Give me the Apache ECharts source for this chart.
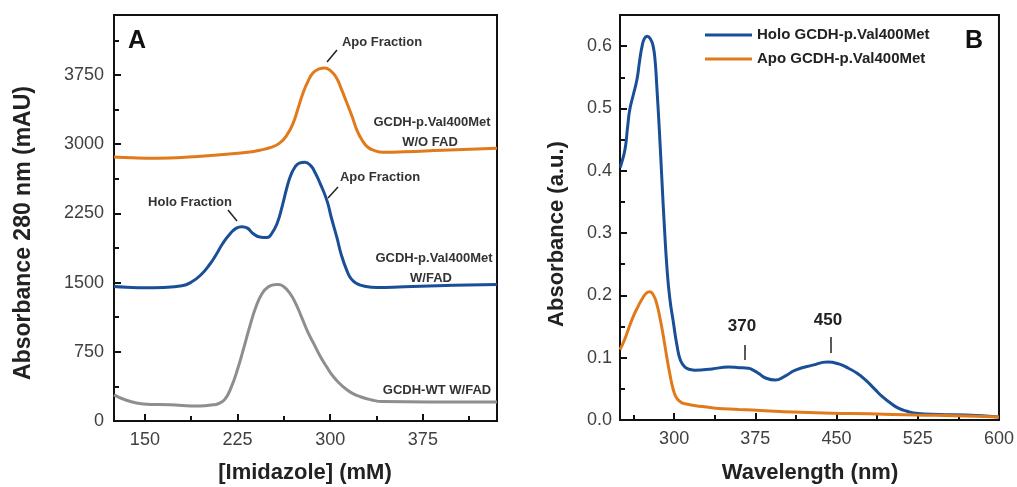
<!DOCTYPE html>
<html>
<head>
<meta charset="utf-8">
<script src="https://cdn.jsdelivr.net/npm/echarts@6/dist/echarts.min.js"></script>
<style>
html,body{margin:0;padding:0;background:#fff;}
#chart{width:1017px;height:487px;}
</style>
</head>
<body>
<div id="chart"></div>
<script>
// ---------- Panel A data: [Imidazole mM, Absorbance 280 nm mAU] ----------
var aWithoutFAD = [[125,2860],[140,2852],[160,2848],[190,2865],[216,2890],[235,2915],[243,2935],[252,2965],[259,3011],[265,3100],[270,3228],[274,3390],[278,3554],[282,3680],[286,3772],[291,3815],[295.5,3826],[300,3800],[305,3720],[309,3600],[313.5,3446],[318,3290],[321.6,3152],[326,3040],[330.5,2967],[336,2930],[342.6,2913],[360,2918],[391,2935],[435,2957]];
var aWithFAD = [[125,1457],[135,1450],[150,1445],[165,1448],[180,1465],[187,1500],[195,1580],[203,1707],[208,1810],[213,1924],[219,2030],[224,2090],[228.6,2105],[233,2090],[237.5,2033],[243,1995],[248.8,1989],[253,2040],[257,2141],[261,2320],[265,2533],[268,2660],[271.4,2750],[275,2795],[279.5,2804],[284,2770],[287.6,2696],[292,2570],[297.3,2391],[301,2200],[305.4,1989],[309,1800],[313.5,1630],[317,1540],[321.6,1489],[328,1460],[337.8,1446],[360,1455],[400,1470],[435,1478]];
var aWT = [[125,283],[135,225],[148.5,185],[170,175],[194.6,163],[205,175],[210,190],[215,240],[220,370],[225,560],[230,790],[235,1030],[240,1240],[245,1385],[250,1455],[255,1478],[258,1480],[262,1460],[267,1390],[272,1275],[277,1120],[282,960],[287,830],[292,700],[297,590],[302,490],[307,415],[312,355],[318,300],[325,260],[333,230],[342,210],[380,205],[435,207]];

// ---------- Panel B data: [Wavelength nm, Absorbance a.u.] ----------
var bHolo = [[250,0.405],[251,0.410],[254.6,0.434],[257,0.47],[259,0.498],[262,0.52],[265.7,0.547],[268,0.575],[270.4,0.600],[272.5,0.612],[275,0.616],[278,0.612],[280.6,0.600],[282.5,0.575],[284,0.535],[286.5,0.46],[289,0.375],[291,0.31],[293.5,0.241],[296,0.195],[299,0.16],[302.8,0.118],[306,0.095],[310,0.085],[315,0.081],[319.4,0.080],[335,0.082],[350,0.085],[360,0.084],[368.5,0.083],[373,0.08],[377.8,0.075],[385,0.067],[393.5,0.064],[402,0.070],[412,0.080],[427.8,0.088],[441.7,0.093],[452,0.09],[461,0.083],[469,0.075],[476.9,0.064],[485,0.05],[492.6,0.037],[500,0.027],[507,0.019],[515,0.014],[523,0.011],[545,0.009],[569,0.008],[600,0.005]];
var bApo = [[250,0.113],[254,0.128],[258,0.147],[262,0.165],[266,0.18],[270,0.193],[274,0.203],[277.5,0.206],[281,0.2],[284,0.186],[287,0.163],[290,0.135],[293,0.103],[296,0.074],[299,0.05],[302,0.036],[306,0.029],[310,0.026],[320,0.023],[338,0.019],[360,0.017],[384,0.015],[410,0.013],[446,0.011],[480,0.01],[523,0.008],[560,0.007],[600,0.005]];

// ---------- Tick values ----------
var aXTicks = [150,225,300,375];
var aXMinor = [187.5,262.5,337.5,412.5];
var aYTicks = [0,750,1500,2250,3000,3750];
var aYMinor = [375,1125,1875,2625,3375,4125];
var bXTicks = [300,375,450,525,600];
var bXMinor = [262.5,337.5,412.5,487.5,562.5];
var bYTicks = [0,0.1,0.2,0.3,0.4,0.5,0.6];
var bYMinor = [0.05,0.15,0.25,0.35,0.45,0.55];

var FONT = '"Liberation Sans", Arial, sans-serif';
var BLUE = '#1a4f98', ORANGE = '#e17a1b', GRAY = '#8e8e8e';
var LABEL = {color:'#404040', fontSize:18, fontFamily:FONT};

function mainAxis(grid, pos, min, max, ticks, margin, fmt){
  return {
    type:'value', gridIndex:grid, position:pos, min:min, max:max, splitLine:{show:false},
    axisLine:{show:true, onZero:false, lineStyle:{color:'#111', width:2}},
    axisTick:{show:true, inside:true, length:7, lineStyle:{color:'#111', width:2}, customValues:ticks},
    axisLabel:Object.assign({margin:margin, customValues:ticks, formatter:fmt||function(v){return String(v);}}, LABEL)
  };
}
function minorAxis(grid, pos, min, max, ticks){
  return {
    type:'value', gridIndex:grid, position:pos, offset:0, min:min, max:max, splitLine:{show:false},
    axisLine:{show:false, onZero:false},
    axisTick:{show:true, inside:true, length:5, lineStyle:{color:'#111', width:2}, customValues:ticks},
    axisLabel:{show:false}
  };
}

function txt(t, x, y, size, color, rot){
  return {type:'text', x:x, y:y, rotation:rot||0,
    style:{text:t, x:0, y:0, font:'bold '+size+'px '+FONT, fill:color,
      align:'center', verticalAlign:'middle', textAlign:'center', textVerticalAlign:'middle'}};
}
function seg(x1,y1,x2,y2){
  return {type:'line', shape:{x1:x1,y1:y1,x2:x2,y2:y2}, style:{stroke:'#222', lineWidth:1.5}};
}

var chart = echarts.init(document.getElementById('chart'), null, {renderer:'canvas'});
var lineBase = {type:'line', showSymbol:false, smooth:0.5, clip:true};

chart.setOption({
  animation:false,
  backgroundColor:'#fff',
  grid:[
    {left:114, top:15, width:383, height:406, show:true, borderColor:'#111', borderWidth:2, backgroundColor:'transparent'},
    {left:620, top:15, width:381, height:405, show:true, borderColor:'#111', borderWidth:2, backgroundColor:'transparent'}
  ],
  xAxis:[
    mainAxis(0,'bottom',125,435,aXTicks,10),
    mainAxis(1,'bottom',250,600,bXTicks,10),
    minorAxis(0,'bottom',125,435,aXMinor),
    minorAxis(1,'bottom',250,600,bXMinor)
  ],
  yAxis:[
    mainAxis(0,'left',0,4400,aYTicks,10),
    mainAxis(1,'left',0,0.65,bYTicks,8,function(v){return v.toFixed(1);}),
    minorAxis(0,'left',0,4400,aYMinor),
    minorAxis(1,'left',0,0.65,bYMinor)
  ],
  legend:{
    data:['Holo GCDH-p.Val400Met','Apo GCDH-p.Val400Met'],
    orient:'vertical', left:705, top:26, padding:0, itemGap:6,
    itemWidth:47, itemHeight:3, icon:'rect',
    textStyle:{fontFamily:FONT, fontWeight:'bold', fontSize:15, color:'#222', lineHeight:18}
  },
  series:[
    Object.assign({}, lineBase, {name:'GCDH-p.Val400Met W/O FAD', xAxisIndex:0, yAxisIndex:0, data:aWithoutFAD, lineStyle:{color:ORANGE, width:3}, itemStyle:{color:ORANGE}}),
    Object.assign({}, lineBase, {name:'GCDH-p.Val400Met W/FAD', xAxisIndex:0, yAxisIndex:0, data:aWithFAD, lineStyle:{color:BLUE, width:3}, itemStyle:{color:BLUE}}),
    Object.assign({}, lineBase, {name:'GCDH-WT W/FAD', xAxisIndex:0, yAxisIndex:0, data:aWT, lineStyle:{color:GRAY, width:3}, itemStyle:{color:GRAY}}),
    Object.assign({}, lineBase, {name:'Holo GCDH-p.Val400Met', xAxisIndex:1, yAxisIndex:1, data:bHolo, lineStyle:{color:BLUE, width:3}, itemStyle:{color:BLUE}}),
    Object.assign({}, lineBase, {name:'Apo GCDH-p.Val400Met', xAxisIndex:1, yAxisIndex:1, data:bApo, lineStyle:{color:ORANGE, width:3}, itemStyle:{color:ORANGE}})
  ],
  graphic:[
    txt('A', 137, 41, 25, '#111'),
    txt('B', 974, 41, 25, '#111'),
    txt('Absorbance 280 nm (mAU)', 24, 233, 23, '#222', Math.PI/2),
    txt('Absorbance (a.u.)', 557, 234, 22, '#222', Math.PI/2),
    txt('[Imidazole] (mM)', 305, 473, 22, '#222'),
    txt('Wavelength (nm)', 810, 473, 22, '#222'),
    txt('Apo Fraction', 382, 42, 13, '#333'),
    txt('GCDH-p.Val400Met', 432, 122, 13, '#333'),
    txt('W/O FAD', 430, 142, 13, '#333'),
    txt('Apo Fraction', 380, 177, 13, '#333'),
    txt('Holo Fraction', 190, 202, 13, '#333'),
    txt('GCDH-p.Val400Met', 434, 258, 13, '#333'),
    txt('W/FAD', 431, 278, 13, '#333'),
    txt('GCDH-WT W/FAD', 437, 390, 13, '#333'),
    txt('370', 742, 326, 17, '#222'),
    txt('450', 828, 320, 17, '#222'),
    seg(327,62,337,50),
    seg(328,198,338,187),
    seg(228,210,237,221),
    seg(745,345,745,360),
    seg(831,337,831,353)
  ]
});
</script>
</body>
</html>
